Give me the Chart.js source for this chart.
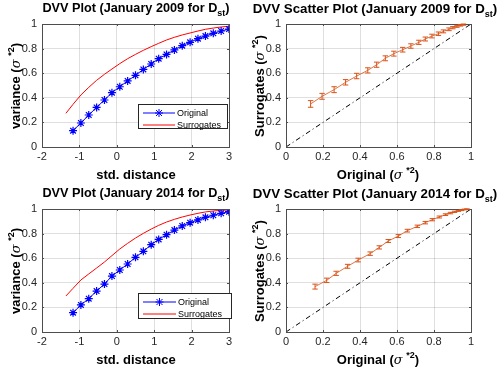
<!DOCTYPE html>
<html>
<head>
<meta charset="utf-8">
<script src="https://cdn.jsdelivr.net/npm/chart.js@4.4.1/dist/chart.umd.min.js"></script>
<style>
  body { margin: 0; background: #fff; }
  #wrap { position: relative; width: 500px; height: 372px; overflow: hidden;
          font-family: 'Liberation Sans', Arial, sans-serif; color: #000; }
  canvas { position: absolute; }
  .title { position: absolute; font-weight: bold; font-size: 12.7px; white-space: nowrap; transform: translateX(-50%); }
  .title.sc { font-size: 13.3px; }
  .title sub { font-size: 9px; vertical-align: -4px; line-height: 0; }
  .xt { position: absolute; font-weight: bold; font-size: 13px; white-space: nowrap; transform: translate(-50%, -50%); }
  .yt { position: absolute; font-weight: bold; font-size: 13px; white-space: nowrap; transform: translate(-50%, -50%) rotate(-90deg); }
  .xt i, .yt i { font-family: 'DejaVu Serif', serif; font-weight: normal; }
  .xt sup, .yt sup { font-size: 9px; vertical-align: 6px; line-height: 0; }
  .legend { position: absolute; background: #fff; border: 1px solid #262626; font-size: 9px; box-sizing: border-box; }
  .legend div { position: absolute; left: 4px; height: 12px; display: flex; align-items: center; white-space: nowrap; }
  .legend svg { margin-right: 2px; flex: none; }
</style>
</head>
<body>
<div id="wrap">
  <canvas id="c1" width="240" height="186" style="left:0;top:0"></canvas>
  <canvas id="c2" width="230" height="186" style="left:250px;top:0"></canvas>
  <canvas id="c3" width="240" height="186" style="left:0;top:185px"></canvas>
  <canvas id="c4" width="230" height="186" style="left:250px;top:185px"></canvas>

  <div class="title" style="left:136px;top:1px">DVV Plot (January 2009 for D<sub>st</sub>)</div>
  <div class="title sc" style="left:375px;top:1px">DVV Scatter Plot (January 2009 for D<sub>st</sub>)</div>
  <div class="title" style="left:136px;top:186px">DVV Plot (January 2014 for D<sub>st</sub>)</div>
  <div class="title sc" style="left:375px;top:186px">DVV Scatter Plot (January 2014 for D<sub>st</sub>)</div>

  <div class="yt" style="left:15px;top:86px">variance (<i>σ</i> <sup>*2</sup>)</div>
  <div class="yt" style="left:259px;top:86px">Surrogates (<i>σ</i> <sup>*2</sup>)</div>
  <div class="yt" style="left:15px;top:271px">variance (<i>σ</i> <sup>*2</sup>)</div>
  <div class="yt" style="left:259px;top:271px">Surrogates (<i>σ</i> <sup>*2</sup>)</div>

  <div class="xt" style="left:136px;top:174px">std. distance</div>
  <div class="xt" style="left:378px;top:174px">Original (<i>σ</i> <sup>*2</sup>)</div>
  <div class="xt" style="left:136px;top:359px">std. distance</div>
  <div class="xt" style="left:378px;top:359px">Original (<i>σ</i> <sup>*2</sup>)</div>

  <div class="legend" style="left:138px;top:104px;width:90px;height:25px">
    <div style="top:2px"><svg width="32" height="10"><line x1="0" y1="5" x2="32" y2="5" stroke="#0000ff"/><path d="M16 1V9M12 5H20M13 2L19 8M13 8L19 2" stroke="#0000ff"/></svg>Original</div>
    <div style="top:14px"><svg width="32" height="10"><line x1="0" y1="5" x2="32" y2="5" stroke="#ff0000"/></svg>Surrogates</div>
  </div>
  <div class="legend" style="left:138px;top:293px;width:94px;height:26px">
    <div style="top:2px"><svg width="33" height="10"><line x1="0" y1="5" x2="33" y2="5" stroke="#0000ff"/><path d="M16.5 1V9M12.5 5H20.5M13.5 2L19.5 8M13.5 8L19.5 2" stroke="#0000ff"/></svg>Original</div>
    <div style="top:14px"><svg width="33" height="10"><line x1="0" y1="5" x2="33" y2="5" stroke="#ff0000"/></svg>Surrogates</div>
  </div>
</div>

<script>
// std. distance grid of the original series
const distX = [-1.17, -0.96, -0.75, -0.54, -0.33, -0.13, 0.08, 0.29, 0.50, 0.71, 0.92,
               1.12, 1.33, 1.54, 1.75, 1.96, 2.17, 2.37, 2.58, 2.79, 3.0]
// surrogates start a little further left
const surrX = [-1.36].concat(distX)

// January 2009
const orig2009 = [0.133, 0.195, 0.260, 0.322, 0.382, 0.442, 0.490, 0.537, 0.583, 0.631, 0.675,
                  0.718, 0.753, 0.789, 0.824, 0.851, 0.881, 0.902, 0.924, 0.943, 0.959]
const surr2009 = [0.274, 0.347, 0.423, 0.485, 0.542, 0.591, 0.634, 0.678, 0.718, 0.753, 0.786,
                  0.816, 0.843, 0.870, 0.892, 0.911, 0.927, 0.943, 0.957, 0.967, 0.976, 0.981]
const scat2009 = [0.350, 0.412, 0.466, 0.526, 0.577, 0.623, 0.669, 0.721, 0.759, 0.791, 0.821,
                  0.851, 0.878, 0.902, 0.921, 0.940, 0.957, 0.970, 0.981, 0.989, 0.995]
const err2009 = [0.027, 0.024, 0.024, 0.022, 0.022, 0.021, 0.021, 0.020, 0.020, 0.019, 0.018,
                 0.017, 0.016, 0.015, 0.014, 0.012, 0.011, 0.009, 0.008, 0.006, 0.005]

// January 2014
const orig2014 = [0.157, 0.220, 0.271, 0.333, 0.390, 0.455, 0.504, 0.553, 0.607, 0.656, 0.710,
                  0.753, 0.791, 0.829, 0.862, 0.889, 0.911, 0.932, 0.949, 0.965, 0.978]
const surr2014 = [0.293, 0.355, 0.423, 0.472, 0.520, 0.569, 0.621, 0.675, 0.721, 0.764, 0.802,
                  0.837, 0.867, 0.894, 0.916, 0.935, 0.951, 0.965, 0.976, 0.984, 0.989, 0.992]
const scat2014 = [0.369, 0.420, 0.477, 0.534, 0.585, 0.637, 0.688, 0.740, 0.780, 0.824, 0.859,
                  0.889, 0.913, 0.935, 0.954, 0.967, 0.977, 0.985, 0.991, 0.996, 0.999]
const err2014 = [0.020, 0.018, 0.017, 0.016, 0.015, 0.014, 0.013, 0.012, 0.012, 0.011, 0.010,
                 0.010, 0.009, 0.008, 0.007, 0.006, 0.005, 0.004, 0.004, 0.003, 0.002]

const distTicks = [-2, -1, 0, 1, 2, 3]
const unitTicks = [0, 0.2, 0.4, 0.6, 0.8, 1]

const pts = (xs, ys) => xs.map((x, i) => ({ x: x, y: ys[i] }))

// matlab style box with inward ticks
const boxPlugin = {
  id: 'box',
  afterDatasetsDraw(chart) {
    const ctx = chart.ctx, a = chart.chartArea
    const sx = chart.scales.x, sy = chart.scales.y
    ctx.save()
    ctx.strokeStyle = '#4d4d4d'
    ctx.lineWidth = 1
    ctx.beginPath()
    sx.ticks.forEach(t => {
      const px = Math.round(sx.getPixelForValue(t.value)) + 0.5
      ctx.moveTo(px, a.bottom); ctx.lineTo(px, a.bottom - 2)
      ctx.moveTo(px, a.top); ctx.lineTo(px, a.top + 2)
    })
    sy.ticks.forEach(t => {
      const py = Math.round(sy.getPixelForValue(t.value)) + 0.5
      ctx.moveTo(a.left, py); ctx.lineTo(a.left + 2, py)
      ctx.moveTo(a.right, py); ctx.lineTo(a.right - 2, py)
    })
    ctx.stroke()
    ctx.strokeRect(Math.round(a.left) + 0.5, Math.round(a.top) + 0.5,
                   Math.round(a.right - a.left), Math.round(a.bottom - a.top))
    ctx.restore()
  }
}

// vertical error bars with caps
const errPlugin = {
  id: 'errbars',
  afterDatasetsDraw(chart) {
    const ctx = chart.ctx, sx = chart.scales.x, sy = chart.scales.y
    chart.data.datasets.forEach(ds => {
      if (!ds.err) return
      ctx.save()
      ctx.strokeStyle = ds.borderColor
      ctx.lineWidth = 1
      ctx.beginPath()
      ds.data.forEach((p, j) => {
        const px = sx.getPixelForValue(p.x)
        const y1 = sy.getPixelForValue(p.y - ds.err[j])
        const y2 = sy.getPixelForValue(p.y + ds.err[j])
        ctx.moveTo(px, y1); ctx.lineTo(px, y2)
        ctx.moveTo(px - 2.7, y1); ctx.lineTo(px + 2.7, y1)
        ctx.moveTo(px - 2.7, y2); ctx.lineTo(px + 2.7, y2)
      })
      ctx.stroke()
      ctx.restore()
    })
  }
}

function axis(min, max, tickVals, extra) {
  return Object.assign({
    type: 'linear', min: min, max: max,
    afterBuildTicks: s => { s.ticks = tickVals.map(v => ({ value: v })) },
    grid: { color: 'rgba(38,38,38,0.15)', drawTicks: false },
    border: { display: false },
    ticks: {
      color: '#262626',
      font: { family: "'Liberation Sans', Arial, sans-serif", size: 11 },
      callback: v => String(Math.round(v * 10) / 10)
    }
  }, extra)
}

function baseOptions(yWidth, padRight, xMin, xMax, xTicks) {
  return {
    responsive: false,
    animation: false,
    layout: { padding: { top: 24, right: padRight, left: 0, bottom: 0 } },
    plugins: { legend: { display: false }, tooltip: { enabled: false } },
    scales: {
      x: axis(xMin, xMax, xTicks, { afterFit: s => { s.height = 39 } }),
      y: axis(0, 1, unitTicks, { afterFit: s => { s.width = yWidth } })
    }
  }
}

function dvvPlot(id, orig, surr) {
  const opts = baseOptions(42, 11, -2, 3, distTicks)
  opts.scales.x.ticks.padding = 3
  opts.scales.y.ticks.padding = 5
  new Chart(document.getElementById(id), {
    type: 'line',
    data: {
      datasets: [
        {
          label: 'Original',
          data: pts(distX, orig),
          borderColor: '#0000ff',
          borderWidth: 1,
          pointStyle: 'star',
          pointRadius: 4,
          pointBorderColor: '#0000ff',
          pointBorderWidth: 1.2,
          tension: 0
        },
        {
          label: 'Surrogates',
          data: pts(surrX, surr),
          borderColor: '#ff0000',
          borderWidth: 1,
          pointRadius: 0,
          tension: 0
        }
      ]
    },
    options: opts,
    plugins: [boxPlugin]
  })
}

function scatterPlot(id, orig, scat, err) {
  const opts = baseOptions(36, 9, 0, 1, unitTicks)
  opts.scales.x.ticks.padding = 3
  opts.scales.y.ticks.padding = 5
  new Chart(document.getElementById(id), {
    type: 'scatter',
    data: {
      datasets: [
        {
          label: 'identity',
          data: [{ x: 0, y: 0 }, { x: 1, y: 1 }],
          showLine: true,
          borderColor: '#000000',
          borderWidth: 1,
          borderDash: [5, 3, 1, 3],
          pointRadius: 0
        },
        {
          label: 'Surrogates',
          data: pts(orig, scat),
          err: err,
          showLine: true,
          borderColor: '#D95319',
          borderWidth: 0.8,
          pointRadius: 0
        }
      ]
    },
    options: opts,
    plugins: [boxPlugin, errPlugin]
  })
}

dvvPlot('c1', orig2009, surr2009)
scatterPlot('c2', orig2009, scat2009, err2009)
dvvPlot('c3', orig2014, surr2014)
scatterPlot('c4', orig2014, scat2014, err2014)
</script>
</body>
</html>
